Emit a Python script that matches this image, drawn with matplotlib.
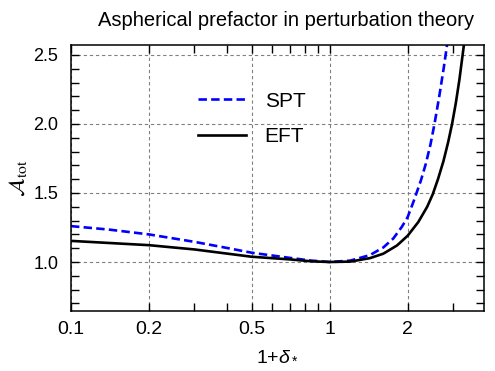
import matplotlib
matplotlib.use("Agg")
import matplotlib.pyplot as plt
import numpy as np
from matplotlib.ticker import FixedLocator, NullFormatter

plt.rcParams['font.family'] = ['Liberation Sans', 'DejaVu Sans']
plt.rcParams['mathtext.fontset'] = 'custom'
plt.rcParams['mathtext.rm'] = 'Liberation Sans'
plt.rcParams['mathtext.it'] = 'Liberation Sans:italic'
plt.rcParams['mathtext.bf'] = 'Liberation Sans:bold'

# values
x_spt = [0.1, 0.14, 0.2, 0.3, 0.39, 0.5, 0.7, 0.85, 1.0, 1.2, 1.43, 1.61, 1.76,
         1.9, 2.0, 2.11, 2.25, 2.35, 2.45, 2.54, 2.65, 2.76, 2.84]
y_spt = [1.26, 1.235, 1.2, 1.146, 1.106, 1.067, 1.03, 1.01, 1.0, 1.01, 1.05,
         1.105, 1.17, 1.255, 1.325, 1.44, 1.59, 1.71, 1.85, 2.0, 2.2, 2.41, 2.572]

x_eft = [0.1, 0.2, 0.3, 0.5, 0.7, 0.85, 1.0, 1.2, 1.43, 1.61, 1.82, 2.0, 2.2,
         2.38, 2.5, 2.62, 2.75, 2.87, 2.97, 3.07, 3.17, 3.30]
y_eft = [1.153, 1.122, 1.091, 1.038, 1.019, 1.005, 1.0, 1.003, 1.028, 1.06,
         1.12, 1.19, 1.29, 1.4, 1.49, 1.6, 1.73, 1.87, 2.0, 2.15, 2.32, 2.572]

x_major = [0.1, 0.2, 0.5, 1, 2]
x_labels = ['0.1', '0.2', '0.5', '1', '2']
x_minor = [0.3, 0.4, 0.6, 0.7, 0.8, 0.9, 3, 4]
y_major = [1.0, 1.5, 2.0, 2.5]
y_labels = ['1.0', '1.5', '2.0', '2.5']

fig = plt.figure(figsize=(4.95, 3.71), dpi=100)
ax = fig.add_axes([0.1434, 0.1617, 0.978 - 0.1434, 0.8787 - 0.1617])

ax.plot(x_spt, y_spt, color='#0000ff', lw=1.9, dashes=(3.2, 1.6), label='SPT')
ax.plot(x_eft, y_eft, color='black', lw=1.9, label='EFT')

ax.set_xscale('log')
ax.set_xlim(0.1, 3.95)
ax.set_ylim(0.645, 2.572)

ax.xaxis.set_major_locator(FixedLocator(x_major))
ax.set_xticklabels(x_labels)
ax.xaxis.set_minor_locator(FixedLocator(x_minor))
ax.xaxis.set_minor_formatter(NullFormatter())
ax.yaxis.set_major_locator(FixedLocator(y_major))
ax.set_yticklabels(y_labels)
ax.yaxis.set_minor_locator(FixedLocator(np.arange(0.7, 2.55, 0.1)))

ax.tick_params(which='both', direction='in', top=True, right=True,
               length=5.5, width=1.0)
ax.tick_params(axis='x', which='major', pad=7, labelsize=14)
ax.tick_params(axis='y', which='major', pad=9, labelsize=13)
for s in ax.spines.values():
    s.set_linewidth(1.1)

ax.grid(True, which='major', color='#808080', linestyle=(0, (3, 2.5)), lw=0.8)

ax.set_xlabel(r'1+$\delta_*$', fontsize=14, labelpad=7)
ax.set_ylabel(r'$\mathcal{A}_{\mathrm{tot}}$', fontsize=16, labelpad=3,
              math_fontfamily='stix')
ax.set_title('Aspherical prefactor in perturbation theory', fontsize=14.5,
             pad=14, x=0.52)

leg = ax.legend(loc='upper left', bbox_to_anchor=(0.262, 0.895), frameon=False,
                fontsize=15, handlelength=2.3, labelspacing=0.78,
                handletextpad=0.9)

fig.savefig('out.png', dpi=100)
